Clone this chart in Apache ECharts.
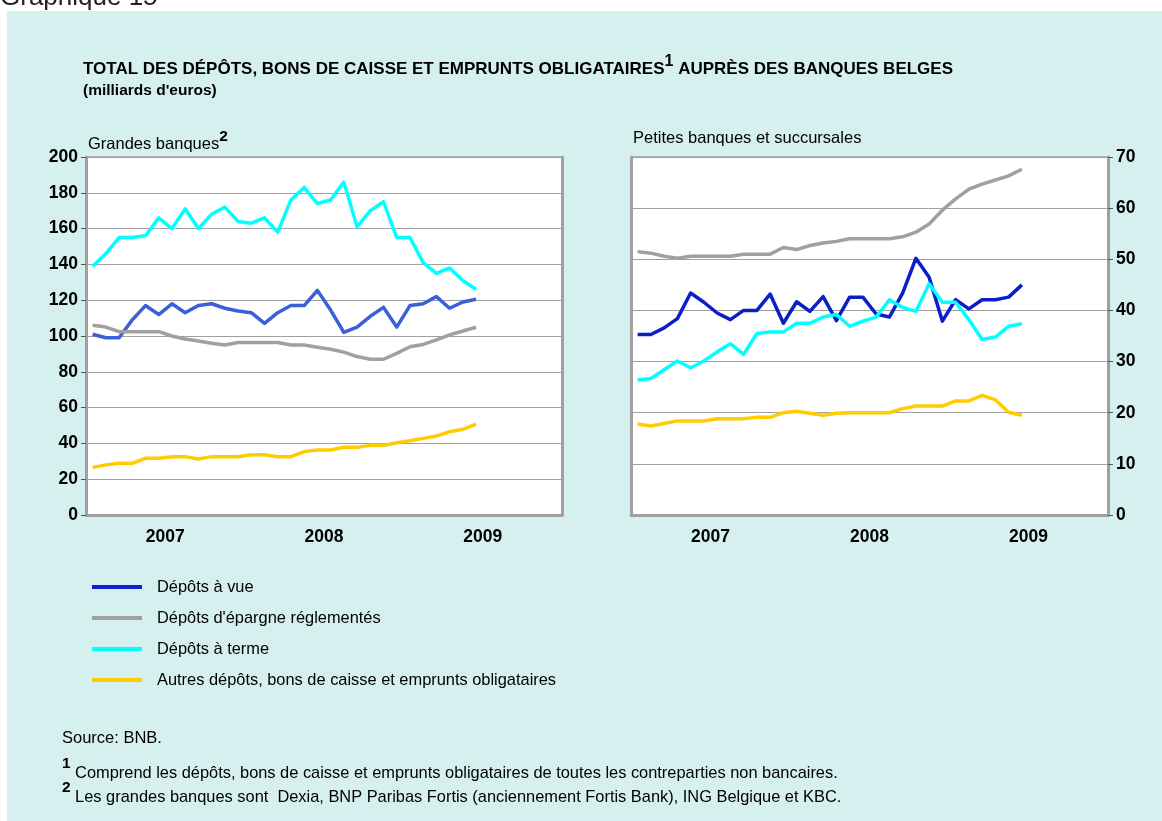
<!DOCTYPE html>
<html>
<head>
<meta charset="utf-8">
<script src="https://cdn.jsdelivr.net/npm/echarts@6/dist/echarts.min.js"></script>
<style>
html,body{margin:0;padding:0;background:#fff}
#chart{width:1162px;height:821px}
</style>
</head>
<body>
<div id="chart"></div>
<script>
// axe des temps : mois de 2007 a 2009
var years = ['2007', '2008', '2009'];
var months = [];
years.forEach(function (y) {
  for (var m = 1; m <= 12; m++) months.push(y + '-' + m);
});

// Grandes banques (milliards d'euros), janv. 2007 - juin 2009
var gbVue = [101, 99, 99, 109, 117, 112, 118, 113, 117, 118, 115.5, 114, 113, 107, 113, 117, 117, 125.5, 114.5, 102, 105, 111, 116, 105, 117, 118, 122, 115.5, 119, 120.5];
var gbEpargne = [106, 105, 102.4, 102.4, 102.4, 102.4, 100, 98.3, 97.2, 96, 95, 96.4, 96.4, 96.4, 96.4, 95, 95, 93.7, 92.6, 91, 88.5, 87, 87, 90.3, 94, 95.3, 97.8, 100.6, 102.8, 104.9];
var gbTerme = [139, 146, 155, 155, 156, 166, 160, 171, 160, 168, 172, 164, 163, 166, 158, 176, 183, 174, 176, 186, 161, 170, 175, 155, 155, 141, 135, 138, 131, 126];
var gbAutres = [26.6, 28, 28.9, 28.9, 31.7, 31.7, 32.6, 32.6, 31.3, 32.6, 32.6, 32.6, 33.7, 33.7, 32.6, 32.6, 35.4, 36.3, 36.3, 37.8, 37.8, 38.9, 38.9, 40.4, 41.5, 42.8, 44.1, 46.5, 47.9, 50.8];

// Petites banques et succursales
var pbVue = [35.3, 35.3, 36.6, 38.4, 43.4, 41.6, 39.5, 38.2, 40, 40, 43.2, 37.5, 41.7, 39.8, 42.7, 38, 42.6, 42.6, 39.3, 38.7, 43.4, 50.2, 46.5, 37.9, 42.1, 40.3, 42.1, 42.1, 42.6, 45];
var pbEpargne = [51.5, 51.2, 50.6, 50.2, 50.6, 50.6, 50.6, 50.6, 51, 51, 51, 52.3, 51.9, 52.7, 53.2, 53.5, 54, 54, 54, 54, 54.4, 55.3, 56.9, 59.6, 61.8, 63.7, 64.7, 65.5, 66.3, 67.6];
var pbTerme = [26.4, 26.7, 28.4, 30.1, 28.8, 30.1, 31.9, 33.5, 31.4, 35.5, 35.8, 35.8, 37.5, 37.5, 38.7, 39.2, 36.9, 37.9, 38.7, 42.1, 40.6, 39.8, 45.2, 41.6, 41.6, 38.2, 34.3, 34.8, 36.9, 37.4];
var pbAutres = [17.8, 17.4, 17.9, 18.4, 18.4, 18.4, 18.8, 18.8, 18.8, 19.1, 19.1, 20, 20.3, 19.9, 19.5, 19.9, 20, 20, 20, 20, 20.8, 21.3, 21.3, 21.3, 22.3, 22.3, 23.4, 22.5, 20.1, 19.5];

var noms = ['Dépôts à vue', "Dépôts d'épargne réglementés", 'Dépôts à terme', 'Autres dépôts, bons de caisse et emprunts obligataires'];
var FONT = "'Liberation Sans', Arial, sans-serif";
var GRIS = '#a0a0a0';

var chart = echarts.init(document.getElementById('chart'));

function ligne(nom, data, couleur, g) {
  return {
    name: nom, type: 'line', data: data,
    xAxisIndex: g * 2, yAxisIndex: g * 2,
    symbol: 'none', animation: false,
    lineStyle: { color: couleur, width: 3.5, join: 'round' },
    itemStyle: { color: couleur }
  };
}

function axeMois(g) {
  return { type: 'category', gridIndex: g, data: months, boundaryGap: true, show: false };
}
function axeAnnees(g) {
  return {
    type: 'category', gridIndex: g, data: years, boundaryGap: true, position: 'bottom',
    axisLine: { lineStyle: { color: GRIS, width: 3 } },
    axisTick: { inside: true, length: 6, lineStyle: { color: '#000', width: 1 } },
    axisLabel: { color: '#000', fontSize: 17.5, fontWeight: 'bold', fontFamily: FONT, margin: 13 }
  };
}
function axeValeur(g, pos, max, interval, labels) {
  return {
    type: 'value', gridIndex: g, position: pos, min: 0, max: max, interval: interval,
    axisLine: { show: true, lineStyle: { color: GRIS, width: 3 } },
    axisTick: { show: labels, length: 5, lineStyle: { color: '#555' } },
    axisLabel: { show: labels, color: '#000', fontSize: 17.5, fontWeight: 'bold', fontFamily: FONT, margin: 8 },
    splitLine: { show: labels, lineStyle: { color: GRIS, width: 1 } }
  };
}

// texte normal + exposant
function riche(taille, poids, hauteur) {
  return {
    t: { fontSize: taille, fontWeight: poids, color: '#000', fontFamily: FONT, lineHeight: hauteur, verticalAlign: 'bottom' },
    s: { fontSize: taille - 1, fontWeight: 'bold', color: '#000', fontFamily: FONT, lineHeight: hauteur, verticalAlign: 'top' }
  };
}

var option = {
  backgroundColor: '#fff',
  textStyle: { fontFamily: FONT },
  graphic: [{
    type: 'rect', z: -10,
    shape: { x: 7, y: 11, width: 1160, height: 815 },
    style: { fill: '#d6f0f0' }
  }],
  title: [
    { text: 'Graphique 15', left: 0, top: -15, padding: 0,
      textStyle: { fontSize: 26, fontWeight: 'normal', color: '#222', fontFamily: FONT } },
    { text: '{t|TOTAL DES DÉPÔTS, BONS DE CAISSE ET EMPRUNTS OBLIGATAIRES}{s|1}{t| AUPRÈS DES BANQUES BELGES}',
      left: 83, top: 54, padding: 0,
      textStyle: { rich: riche(17, 'bold', 24) } },
    { text: "(milliards d'euros)", left: 83, top: 83, padding: 0,
      textStyle: { fontSize: 15.5, fontWeight: 'bold', color: '#000', fontFamily: FONT } },
    { text: '{t|Grandes banques}{s|2}', left: 88, top: 129, padding: 0,
      textStyle: { rich: riche(16.5, 'normal', 24) } },
    { text: 'Petites banques et succursales', left: 633, top: 130, padding: 0,
      textStyle: { fontSize: 16.5, fontWeight: 'normal', color: '#000', fontFamily: FONT } },
    { text: 'Source: BNB.', left: 62, top: 730, padding: 0,
      textStyle: { fontSize: 16.5, fontWeight: 'normal', color: '#000', fontFamily: FONT } },
    { text: '{s|1}{t| Comprend les dépôts, bons de caisse et emprunts obligataires de toutes les contreparties non bancaires.}',
      left: 62, top: 756, padding: 0,
      textStyle: { rich: riche(16.4, 'normal', 25) } },
    { text: '{s|2}{t| Les grandes banques sont  Dexia, BNP Paribas Fortis (anciennement Fortis Bank), ING Belgique et KBC.}',
      left: 62, top: 780, padding: 0,
      textStyle: { rich: riche(16.4, 'normal', 25) } }
  ],
  legend: {
    orient: 'vertical', left: 92, top: 579, padding: 0,
    icon: 'rect', itemWidth: 50, itemHeight: 4, itemGap: 15,
    selectedMode: false,
    textStyle: { fontSize: 16.4, color: '#000', fontFamily: FONT, padding: [0, 0, 0, 10] },
    data: [
      { name: noms[0], itemStyle: { color: '#0a22d0' } },
      { name: noms[1], itemStyle: { color: '#a0a0a0' } },
      { name: noms[2], itemStyle: { color: '#00ffff' } },
      { name: noms[3], itemStyle: { color: '#ffcc00' } }
    ]
  },
  grid: [
    { left: 86, top: 157, width: 476, height: 358, show: true, backgroundColor: '#fff', borderColor: GRIS, borderWidth: 1.5 },
    { left: 631, top: 157, width: 477, height: 358, show: true, backgroundColor: '#fff', borderColor: GRIS, borderWidth: 1.5 }
  ],
  xAxis: [axeMois(0), axeAnnees(0), axeMois(1), axeAnnees(1)],
  yAxis: [
    axeValeur(0, 'left', 200, 20, true),
    axeValeur(0, 'right', 200, 20, false),
    axeValeur(1, 'right', 70, 10, true),
    axeValeur(1, 'left', 70, 10, false)
  ],
  series: [
    ligne(noms[0], gbVue, '#3a5fd6', 0),
    ligne(noms[1], gbEpargne, '#a0a0a0', 0),
    ligne(noms[2], gbTerme, '#00ffff', 0),
    ligne(noms[3], gbAutres, '#ffcc00', 0),
    ligne(noms[0], pbVue, '#0a1fc8', 1),
    ligne(noms[1], pbEpargne, '#a0a0a0', 1),
    ligne(noms[2], pbTerme, '#00ffff', 1),
    ligne(noms[3], pbAutres, '#ffcc00', 1)
  ]
};

chart.setOption(option);
</script>
</body>
</html>
